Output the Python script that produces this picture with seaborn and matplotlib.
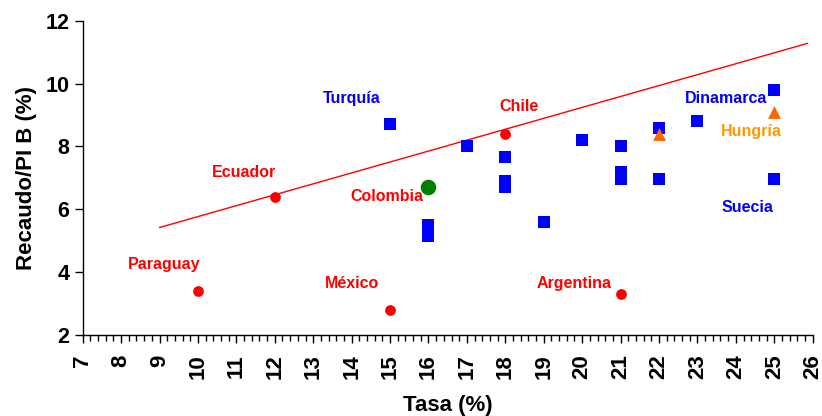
import pandas as pd
import matplotlib.pyplot as plt
import seaborn as sns
from matplotlib.ticker import MultipleLocator

# OECD-type countries (blue squares)
blue_x = [15, 17, 18, 18, 18, 16, 16, 19, 20, 21, 21, 21, 22, 22, 23, 25, 25]
blue_y = [8.7, 8.0, 7.65, 6.9, 6.7, 5.5, 5.15, 5.6, 8.2, 8.0, 7.2, 6.95, 8.6, 6.95, 8.8, 9.8, 6.95]

# Latin American countries (red circles)
red_x = [10, 12, 15, 18, 21]
red_y = [3.4, 6.4, 2.8, 8.4, 3.3]

# Colombia (green) and Hungary (orange triangles)
col_x = [16]
col_y = [6.7]
hun_x = [22, 25]
hun_y = [8.4, 9.1]

# trend line endpoints
trend_x = [9, 25.87]
trend_y = [5.42, 11.28]

labels = ["Turquía", "Ecuador", "Colombia", "Chile", "Dinamarca", "Hungría",
          "Suecia", "Paraguay", "México", "Argentina"]
label_x = [14.0, 11.2, 14.92, 18.35, 23.75, 24.4, 24.29, 9.12, 14.0, 19.78]
label_y = [9.52, 7.16, 6.42, 9.26, 9.52, 8.47, 6.06, 4.24, 3.64, 3.64]
label_colors = ["#0000FF", "#FF0000", "#FF0000", "#FF0000", "#0000FF", "#FF9900",
                "#0000FF", "#FF0000", "#FF0000", "#FF0000"]

sns.set_theme(style="white")
plt.rcParams["font.family"] = ["Liberation Sans", "DejaVu Sans"]
plt.rcParams["font.weight"] = "bold"
plt.rcParams["text.color"] = "black"
plt.rcParams["axes.labelcolor"] = "black"
plt.rcParams["xtick.color"] = "black"
plt.rcParams["ytick.color"] = "black"

fig = plt.figure(figsize=(8.22, 4.16), dpi=100)
ax = fig.add_axes([0.1006, 0.1947, 0.8881, 0.7556])

trend = pd.DataFrame({"x": trend_x, "y": trend_y})
sns.lineplot(data=trend, x="x", y="y", ax=ax, color="#FF0000", linewidth=1)

sns.scatterplot(x=blue_x, y=blue_y, ax=ax, marker="s", color="#0000FF", s=80,
                linewidth=0, zorder=3)
sns.scatterplot(x=red_x, y=red_y, ax=ax, marker="o", color="#FF0000", s=60,
                linewidth=0, zorder=3)
sns.scatterplot(x=col_x, y=col_y, ax=ax, marker="o", color="#008000", s=125,
                linewidth=0, zorder=3)
sns.scatterplot(x=hun_x, y=hun_y, ax=ax, marker="^", color="#FF6600", s=85,
                linewidth=0, zorder=4)

for t, lx, ly, c in zip(labels, label_x, label_y, label_colors):
    ax.text(lx, ly, t, color=c, fontsize=11.5, fontweight="bold",
            ha="center", va="center")

ax.set_xlim(7, 26)
ax.set_ylim(2, 12)
ax.xaxis.set_major_locator(MultipleLocator(1))
ax.xaxis.set_minor_locator(MultipleLocator(0.2))
ax.yaxis.set_major_locator(MultipleLocator(2))

for side in ["top", "right"]:
    ax.spines[side].set_visible(False)
for side in ["left", "bottom"]:
    ax.spines[side].set_color("black")
    ax.spines[side].set_linewidth(1)

ax.tick_params(axis="x", which="major", direction="out", length=6, width=1,
               labelsize=16, labelrotation=90, bottom=True, pad=8)
ax.tick_params(axis="x", which="minor", direction="out", length=4, width=1,
               bottom=True)
ax.tick_params(axis="y", which="major", direction="out", length=6, width=1,
               labelsize=15.5, left=True)
for lab in ax.get_xticklabels() + ax.get_yticklabels():
    lab.set_fontweight("bold")

ax.set_xlabel("Tasa (%)", fontsize=16, fontweight="bold", labelpad=11)
ax.set_ylabel("Recaudo/PI B (%)", fontsize=16, fontweight="bold", labelpad=6)

fig.savefig("out.png", dpi=100)
